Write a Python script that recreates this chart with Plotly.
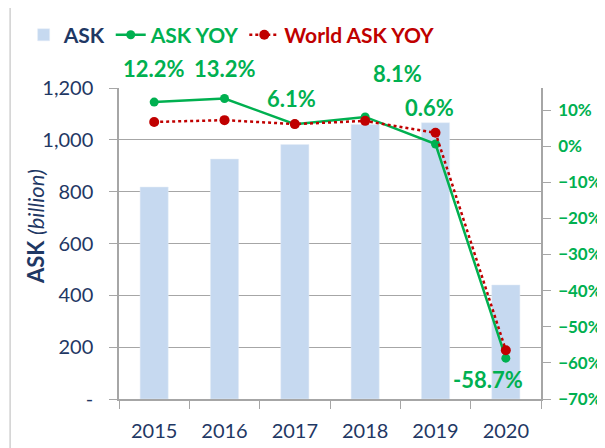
import plotly.graph_objects as go

years = [2015, 2016, 2017, 2018, 2019, 2020]
ask = [818, 926, 982, 1059, 1066, 440]
ask_yoy = [0.122, 0.132, 0.061, 0.081, 0.006, -0.587]
world_yoy = [0.067, 0.072, 0.061, 0.070, 0.037, -0.565]
yoy_labels = ["12.2%", "13.2%", "6.1%", "8.1%", "0.6%", "-58.7%"]
label_xshift = [0, 0, -3, 32, -6, -18]
label_yshift = [34, 30, 26, 43, 36, -21]

NAVY = "#1f3864"
GREEN = "#00b050"
RED = "#c00000"
BAR = "#c6d9f0"
GRID = "#a6a6a6"
FONT = "Lato"

fig = go.Figure()
fig.add_trace(go.Bar(x=years, y=ask, name="<b><span style='color:%s'>ASK</span></b>" % NAVY,
                     marker_color=BAR, width=0.4, yaxis="y"))
fig.add_trace(go.Scatter(x=years, y=ask_yoy,
                         name="<b><span style='color:%s'>ASK YOY</span></b>" % GREEN,
                         mode="lines+markers",
                         line=dict(color=GREEN, width=2.5),
                         marker=dict(color=GREEN, size=9), yaxis="y2"))
fig.add_trace(go.Scatter(x=years, y=world_yoy,
                         name="<b><span style='color:%s'>World ASK YOY</span></b>" % RED,
                         mode="lines+markers",
                         line=dict(color=RED, width=2.5, dash="dot"),
                         marker=dict(color=RED, size=10), yaxis="y2"))

for yr, v, t, dx, dy in zip(years, ask_yoy, yoy_labels, label_xshift, label_yshift):
    fig.add_annotation(x=yr, y=v, xref="x", yref="y2", text="<b>%s</b>" % t,
                       showarrow=False, xshift=dx, yshift=dy,
                       font=dict(family=FONT, size=22, color=GREEN))

fig.add_annotation(xref="paper", yref="paper", x=-0.199, y=0.553, textangle=-90,
                   xanchor="center", yanchor="middle",
                   text="<b>ASK</b> <i>(billion)</i>", showarrow=False,
                   font=dict(family=FONT, size=22, color=NAVY))

fig.add_shape(type="rect", xref="paper", yref="paper", x0=-0.258, x1=1.3,
              y0=-0.5, y1=1.26, line=dict(color="#d0d0d0", width=1.5),
              fillcolor="rgba(0,0,0,0)", layer="below")

fig.update_layout(
    width=597, height=440,
    margin=dict(l=111, r=64, t=80, b=49, autoexpand=False),
    paper_bgcolor="white", plot_bgcolor="white",
    font=dict(family=FONT, color=NAVY),
    showlegend=True,
    legend=dict(orientation="h", x=-0.226, y=1.17, xanchor="left", yanchor="middle",
                font=dict(family=FONT, size=21), itemwidth=30, traceorder="normal"),
    xaxis=dict(range=[2014.5, 2020.5], tickvals=years, ticks="", automargin=False,
               showline=True, linecolor=GRID, linewidth=1.5,
               minor=dict(tickmode="linear", tick0=2014.5, dtick=1, ticks="outside",
                          ticklen=8, tickcolor=GRID, showgrid=False),
               tickfont=dict(family=FONT, size=20, color=NAVY), showgrid=False,
               zeroline=False, ticklabelstandoff=13),
    yaxis=dict(range=[0, 1200], tickvals=[0, 200, 400, 600, 800, 1000, 1200],
               ticktext=["-", "200", "400", "600", "800", "1,000", "1,200"],
               showline=True, linecolor=GRID, linewidth=1.5, ticks="outside",
               ticklen=8, tickcolor=GRID, showgrid=True, gridcolor=GRID, gridwidth=1.2,
               zeroline=False, ticklabelstandoff=12, automargin=False,
               tickfont=dict(family=FONT, size=20, color=NAVY)),
    yaxis2=dict(overlaying="y", side="right", range=[-0.70, 0.161],
                tickvals=[-0.7, -0.6, -0.5, -0.4, -0.3, -0.2, -0.1, 0, 0.1],
                tickformat=".0%", showline=True, linecolor=GRID, linewidth=1.5,
                ticks="outside", ticklen=8, tickcolor=GRID, showgrid=False,
                zeroline=False, ticklabelstandoff=4, automargin=False,
                tickfont=dict(family=FONT, size=17, color=GREEN, weight="bold")),
)

fig.write_html("out.html")
